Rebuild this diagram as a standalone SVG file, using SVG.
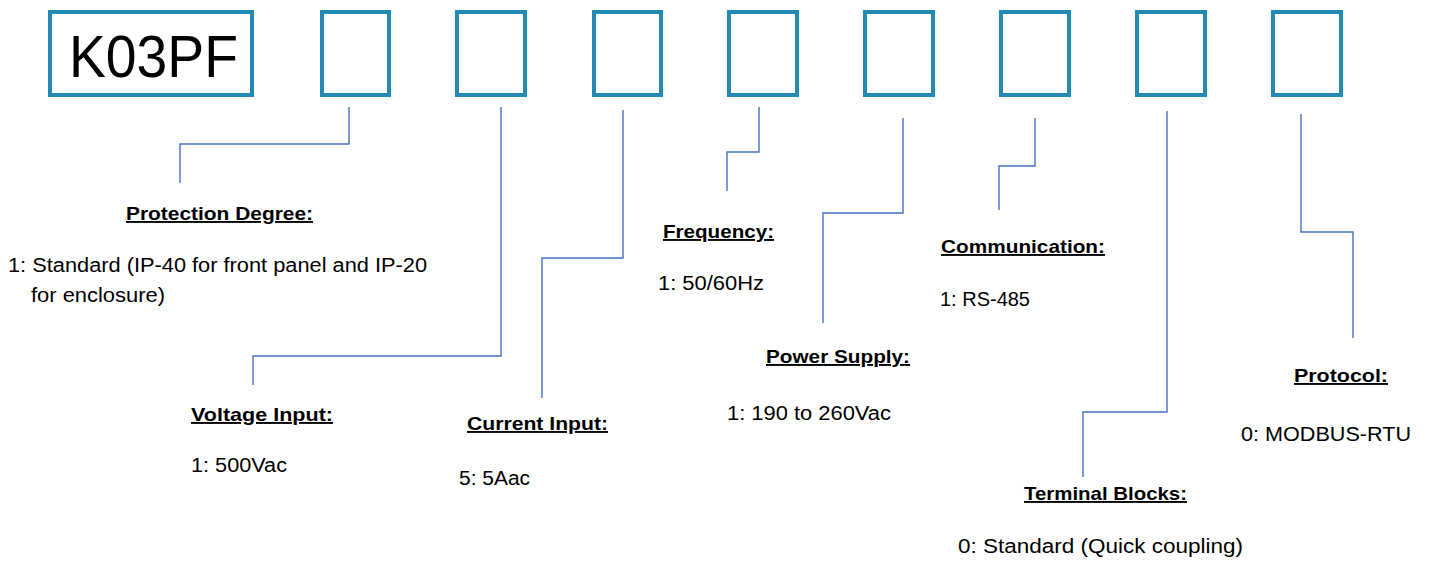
<svg xmlns="http://www.w3.org/2000/svg" width="1430" height="563" viewBox="0 0 1430 563">
<style>
.box{fill:none;stroke:#218bb6;stroke-width:4}
.con{fill:none;stroke:#4472c4;stroke-width:1.4}
.h{font-family:"Liberation Sans",Arial,sans-serif;font-weight:bold;font-size:19px;fill:#000;text-decoration:underline}
.t{font-family:"Liberation Sans",Arial,sans-serif;font-size:19.5px;fill:#000}
</style>
<rect width="1430" height="563" fill="#fff"/>
<g id="code">
<rect class="box" x="50" y="12" width="202" height="83"/>
<text x="69" y="77" font-family="Liberation Sans,Arial,sans-serif" font-size="60" textLength="169" lengthAdjust="spacingAndGlyphs">K03PF</text>
</g>
<g id="slots">
<rect id="slot1" class="box" x="322" y="12" width="67" height="83"/>
<rect id="slot2" class="box" x="457" y="12" width="68" height="83"/>
<rect id="slot3" class="box" x="594" y="12" width="67" height="83"/>
<rect id="slot4" class="box" x="729" y="12" width="68" height="83"/>
<rect id="slot5" class="box" x="865" y="12" width="68" height="83"/>
<rect id="slot6" class="box" x="1001" y="12" width="68" height="83"/>
<rect id="slot7" class="box" x="1137" y="12" width="68" height="83"/>
<rect id="slot8" class="box" x="1273" y="12" width="68" height="83"/>
</g>
<g id="connectors">
<polyline class="con" points="349,107 349,144 180,144 180,183"/>
<polyline class="con" points="501,107 501,356 253,356 253,385"/>
<polyline class="con" points="623,110 623,258 542,258 542,398"/>
<polyline class="con" points="759,107 759,152 727,152 727,191"/>
<polyline class="con" points="903,118 903,213 823,213 823,323"/>
<polyline class="con" points="1035,118 1035,166 999,166 999,210"/>
<polyline class="con" points="1167,111 1167,412 1083,412 1083,477"/>
<polyline class="con" points="1301,114 1301,232 1353,232 1353,338"/>
</g>
<g id="protection">
<text class="h" x="126" y="220" textLength="187" lengthAdjust="spacingAndGlyphs">Protection Degree:</text>
<text class="t" x="8" y="272" textLength="419" lengthAdjust="spacingAndGlyphs">1: Standard (IP-40 for front panel and IP-20</text>
<text class="t" x="31" y="302" textLength="134" lengthAdjust="spacingAndGlyphs">for enclosure)</text>
</g>
<g id="voltage">
<text class="h" x="191" y="421" textLength="142" lengthAdjust="spacingAndGlyphs">Voltage Input:</text>
<text class="t" x="191" y="472" textLength="96" lengthAdjust="spacingAndGlyphs">1: 500Vac</text>
</g>
<g id="current">
<text class="h" x="467" y="430" textLength="141" lengthAdjust="spacingAndGlyphs">Current Input:</text>
<text class="t" x="459" y="485" textLength="71" lengthAdjust="spacingAndGlyphs">5: 5Aac</text>
</g>
<g id="frequency">
<text class="h" x="663" y="238" textLength="111" lengthAdjust="spacingAndGlyphs">Frequency:</text>
<text class="t" x="658" y="290" textLength="106" lengthAdjust="spacingAndGlyphs">1: 50/60Hz</text>
</g>
<g id="power">
<text class="h" x="766" y="363" textLength="144" lengthAdjust="spacingAndGlyphs">Power Supply:</text>
<text class="t" x="727" y="420" textLength="164" lengthAdjust="spacingAndGlyphs">1: 190 to 260Vac</text>
</g>
<g id="communication">
<text class="h" x="941" y="253" textLength="164" lengthAdjust="spacingAndGlyphs">Communication:</text>
<text class="t" x="940" y="306" textLength="90" lengthAdjust="spacingAndGlyphs">1: RS-485</text>
</g>
<g id="terminal">
<text class="h" x="1024" y="500" textLength="163" lengthAdjust="spacingAndGlyphs">Terminal Blocks:</text>
<text class="t" x="958" y="553" textLength="285" lengthAdjust="spacingAndGlyphs">0: Standard (Quick coupling)</text>
</g>
<g id="protocol">
<text class="h" x="1294" y="382" textLength="94" lengthAdjust="spacingAndGlyphs">Protocol:</text>
<text class="t" x="1241" y="441" textLength="170" lengthAdjust="spacingAndGlyphs">0: MODBUS-RTU</text>
</g>
</svg>
